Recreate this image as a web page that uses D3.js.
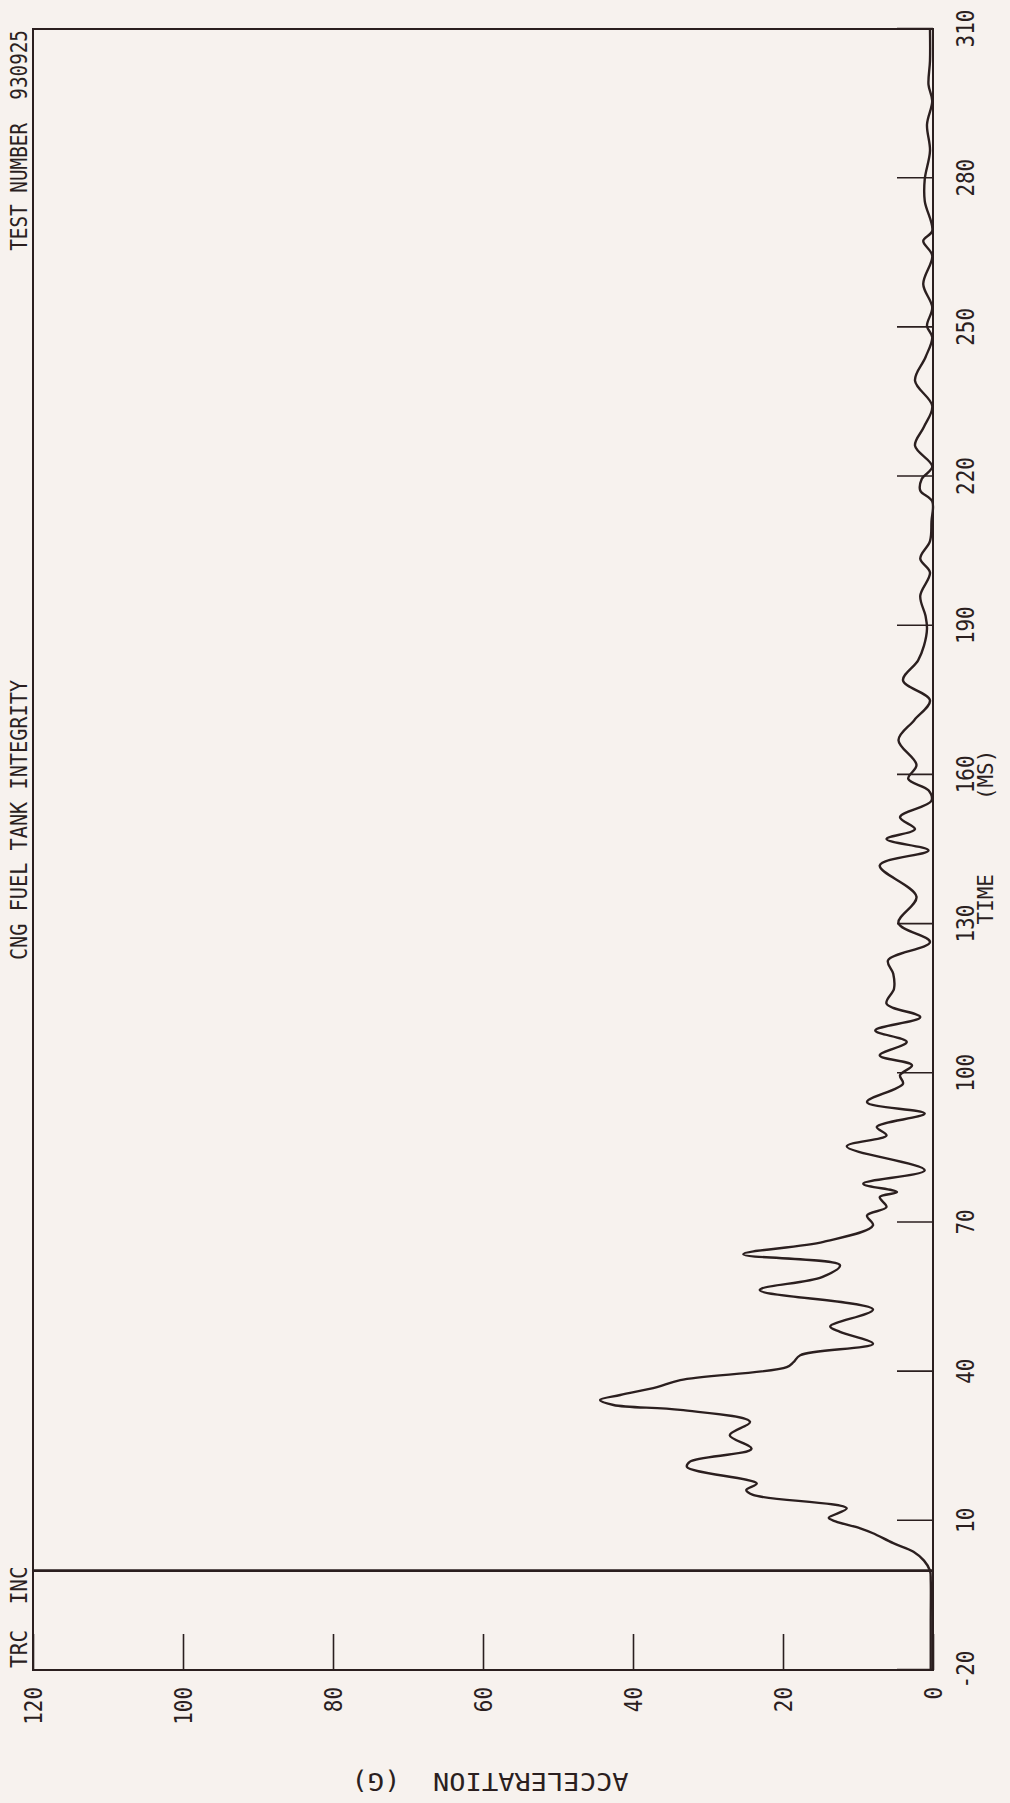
<!DOCTYPE html>
<html>
<head>
<meta charset="utf-8">
<script src="https://cdn.jsdelivr.net/npm/d3@7/dist/d3.min.js"></script>
<style>
  body { margin: 0; background: #f7f2ee; }
  svg text { font-family: "DejaVu Sans Mono", monospace; fill: #2b1f1f; white-space: pre; }
</style>
</head>
<body>
<script>
// Acceleration trace (time in ms, acceleration in G)
const timeMs = [-20, -10, -2, 0, 2, 3.8, 5.5, 7.5, 8.5, 9.9, 10.6, 12.5, 15.2, 16.2, 17.5,
  20.8, 21.9, 24.5, 27.2, 29.9, 32.3, 33.3, 34.3, 35.3, 36.9, 38.3, 40.9, 41.9, 43.3, 45.6,
  48.0, 49.1, 52.5, 56.4, 59.0, 61.4, 63.6, 66.1, 69.4, 71.4, 73.1, 75.1, 76.1, 77.8, 80.5,
  85.3, 87.5, 89.2, 91.9, 94.2, 97.9, 99.6, 101.6, 103.6, 106.3, 108.6, 111.3, 114.0, 117.0,
  120.0, 122.7, 126.4, 130.2, 135.5, 141.8, 144.8, 147.1, 149.1, 151.5, 154.8, 156.9, 159.2,
  162.0, 167.0, 171.0, 175.0, 179.0, 183.0, 186.0, 189.4, 192.0, 196.0, 200.7, 203.5, 207.0,
  211.0, 215.0, 217.2, 219.5, 222.0, 226.2, 230.0, 234.2, 239.3, 244.0, 248.0, 250.3, 254.0,
  258.7, 264.4, 267.4, 269.4, 275.4, 279.8, 285.5, 290.8, 295.5, 298.8, 303.6, 310];
const accelG = [0.3, 0.3, 0.3, 0.4, 1.2, 2.6, 5.3, 8.0, 9.7, 13.0, 13.9, 11.5, 24.0, 24.9, 23.5,
  32.8, 32.4, 24.2, 27.1, 24.4, 33.7, 42.6, 44.4, 41.7, 36.8, 33.7, 19.5, 18.6, 17.7, 8.0,
  12.4, 13.7, 8.0, 23.1, 14.8, 12.4, 25.3, 14.6, 8.0, 8.8, 6.2, 7.1, 4.8, 9.3, 1.1,
  11.5, 6.2, 7.5, 1.1, 8.8, 4.0, 4.4, 2.8, 7.1, 3.5, 7.7, 1.7, 6.2, 5.2,
  5.3, 6.0, 0.4, 4.6, 2.2, 7.1, 0.6, 6.2, 2.4, 4.4, 0.2, 0.6, 3.3,
  2.2, 4.6, 2.5, 0.4, 4.0, 2.0, 1.2, 0.8, 1.0, 1.7, 0.4, 1.7, 0.4,
  0.2, 0.1, 1.7, 1.5, 0.1, 2.4, 1.2, 0.1, 2.4, 1.0, 0.1, 0.8, 0.1,
  1.3, 0.1, 1.3, 0.1, 1.1, 1.1, 0.4, 0.8, 0.1, 0.6, 0.4, 0.4];

const timeTicks = [-20, 10, 40, 70, 100, 130, 160, 190, 220, 250, 280, 310];
const accelTicks = [0, 20, 40, 60, 80, 100, 120];

const ink = "#2b1f1f";
const width = 1010, height = 1803;
const charW = 12.6; // plotter lettering is narrow

// chart is drawn in its own frame (time across, G up) and turned a quarter left on the page
const plotW = 1641, plotH = 900;

const svg = d3.select("body").append("svg")
    .attr("width", width)
    .attr("height", height);

svg.append("rect")
    .attr("width", width)
    .attr("height", height)
    .attr("fill", "#f7f2ee");

const g = svg.append("g")
    .attr("transform", "translate(33,1670) rotate(-90)");

const x = d3.scaleLinear().domain([-20, 310]).range([0, plotW]);
const y = d3.scaleLinear().domain([0, 120]).range([plotH, 0]);

function narrow(sel) {
    sel.attr("textLength", function() { return this.textContent.length * charW; })
       .attr("lengthAdjust", "spacingAndGlyphs");
}

// frame
g.append("rect")
    .attr("width", plotW)
    .attr("height", plotH)
    .attr("fill", "none")
    .attr("stroke", ink)
    .attr("stroke-width", 2);

// time zero line
g.append("line")
    .attr("x1", x(0)).attr("x2", x(0))
    .attr("y1", 0).attr("y2", plotH)
    .attr("stroke", ink)
    .attr("stroke-width", 2.8);

// time axis
const xAxis = g.append("g")
    .attr("transform", `translate(0,${plotH})`)
    .call(d3.axisBottom(x).tickValues(timeTicks).tickFormat(d => String(d))
        .tickSizeInner(-36).tickSizeOuter(0));
xAxis.select(".domain").remove();
xAxis.selectAll("line").attr("stroke", ink).attr("stroke-width", 1.6);
xAxis.selectAll("text")
    .attr("y", 41)
    .attr("dy", 0)
    .attr("fill", ink)
    .style("font-size", "24px")
    .style("font-family", "DejaVu Sans Mono")
    .call(narrow);

// acceleration axis
const yAxis = g.append("g")
    .call(d3.axisLeft(y).tickValues(accelTicks).tickFormat(d => String(d))
        .tickSizeInner(-36).tickSizeOuter(0).tickPadding(17));
yAxis.select(".domain").remove();
yAxis.selectAll("line").attr("stroke", ink).attr("stroke-width", 1.6);
yAxis.selectAll("text")
    .attr("dy", "0.36em")
    .attr("fill", ink)
    .style("font-size", "24px")
    .style("font-family", "DejaVu Sans Mono")
    .call(narrow);

// the trace
const line = d3.line()
    .x((d, i) => x(timeMs[i]))
    .y((d, i) => y(accelG[i]))
    .curve(d3.curveCatmullRom.alpha(0.5));

g.append("path")
    .datum(accelG)
    .attr("d", line)
    .attr("fill", "none")
    .attr("stroke", ink)
    .attr("stroke-width", 2.4)
    .attr("stroke-linejoin", "round");

// header texts, squeezed sideways like the plotter lettering
g.append("text")
    .attr("transform", "translate(2,-6) scale(0.92,1)")
    .style("font-size", "23px")
    .text("TRC  INC");

g.append("text")
    .attr("transform", "translate(850,-6) scale(0.88,1)")
    .attr("text-anchor", "middle")
    .style("font-size", "23px")
    .text("CNG FUEL TANK INTEGRITY");

g.append("text")
    .attr("transform", `translate(${plotW - 1},-6) scale(0.84,1)`)
    .attr("text-anchor", "end")
    .style("font-size", "23px")
    .text("TEST NUMBER  930925");

// axis titles
g.append("text")
    .attr("x", x(135)).attr("y", 960)
    .attr("text-anchor", "middle")
    .style("font-size", "22px")
    .text("TIME")
    .call(narrow);

g.append("text")
    .attr("x", x(160)).attr("y", 960)
    .attr("text-anchor", "middle")
    .style("font-size", "22px")
    .text("(MS)")
    .call(narrow);

g.append("text")
    .attr("transform", `translate(-103,${plotH / 2 + 7}) rotate(-90)`)
    .attr("text-anchor", "middle")
    .style("font-size", "25px")
    .attr("textLength", 277)
    .attr("lengthAdjust", "spacingAndGlyphs")
    .text("ACCELERATION  (G)");
</script>
</body>
</html>
